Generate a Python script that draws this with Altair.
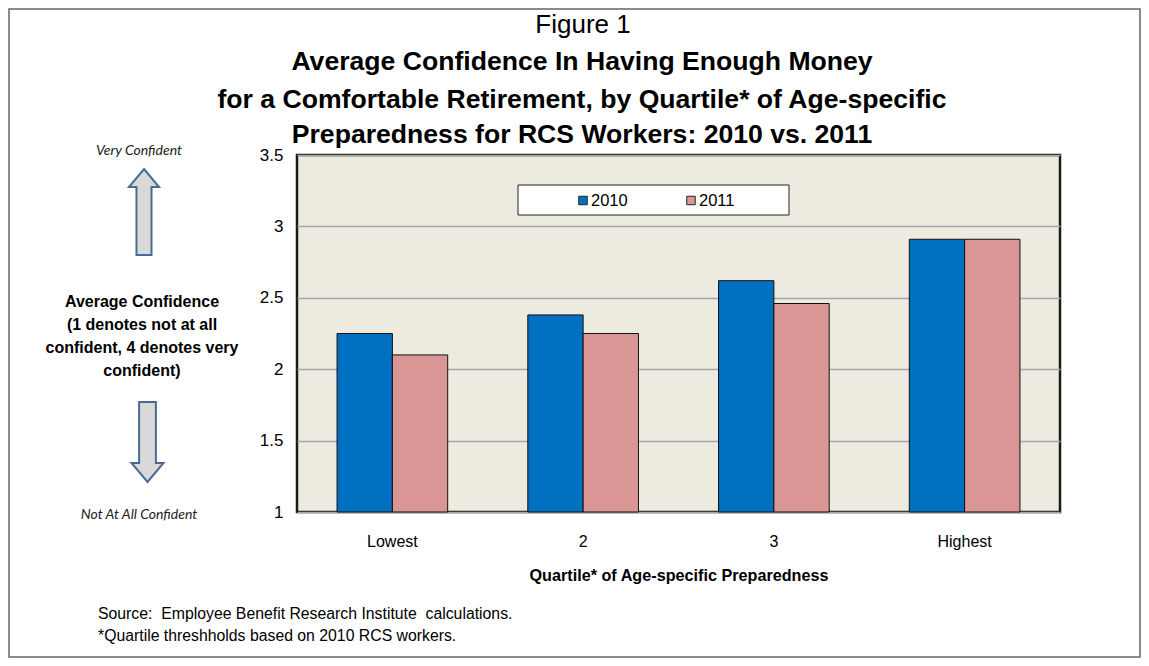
import altair as alt
import pandas as pd

# ---- data ----
quartiles = ["Lowest", "2", "3", "Highest"]
years = ["2010", "2011"]
values_2010 = [2.25, 2.38, 2.62, 2.91]
values_2011 = [2.10, 2.25, 2.46, 2.91]
colors = ["#0070C0", "#D99694"]
y_ticks = [1, 1.5, 2, 2.5, 3, 3.5]

fig_label = "Figure 1"
title_lines = [
    "Average Confidence In Having Enough Money",
    "for a Comfortable Retirement, by Quartile* of Age-specific",
    "Preparedness for RCS Workers: 2010 vs. 2011",
]
y_label_lines = [
    "Average Confidence",
    "(1 denotes not at all",
    "confident, 4 denotes very",
    "confident)",
]
top_label = "Very Confident"
bottom_label = "Not At All Confident"
x_title = "Quartile* of Age-specific Preparedness"
notes = [
    "Source:\u00a0 Employee Benefit Research Institute\u00a0 calculations.",
    "*Quartile threshholds based on 2010 RCS workers.",
]

rows = []
for q, a, b in zip(quartiles, values_2010, values_2011):
    rows.append({"quartile": q, "year": years[0], "value": a})
    rows.append({"quartile": q, "year": years[1], "value": b})
df = pd.DataFrame(rows)

W, H = 763, 357
OX, OY = 297, 155  # plot origin on page
ARIAL = "Liberation Sans, Arial, Helvetica"


def px(x):
    return x - OX


def py(y):
    return y - OY


one = alt.Data(values=[{}])

bars = alt.Chart(df).mark_bar(stroke="#111", strokeWidth=1).encode(
    x=alt.X(
        "quartile:N",
        sort=quartiles,
        scale=alt.Scale(paddingInner=0.42, paddingOuter=0.21),
        axis=alt.Axis(
            title=x_title,
            labelAngle=0,
            labelFont=ARIAL,
            labelFontSize=16,
            labelColor="#000",
            labelPadding=21,
            ticks=False,
            domain=False,
            titleFont=ARIAL,
            titleFontSize=16.2,
            titleFontWeight="bold",
            titleColor="#000",
            titlePadding=18,
        ),
    ),
    xOffset=alt.XOffset("year:N", sort=years, scale=alt.Scale(paddingInner=0, paddingOuter=0)),
    y=alt.Y(
        "value:Q",
        scale=alt.Scale(domain=[1, 3.5], nice=False, zero=False),
        axis=alt.Axis(
            title=None,
            values=y_ticks,
            format=".1~f",
            labelFont=ARIAL,
            labelFontSize=17,
            labelColor="#000",
            labelPadding=14,
            ticks=False,
            domain=False,
            grid=True,
            gridColor="#A6A6A6",
            gridWidth=1.5,
        ),
    ),
    y2=alt.datum(1),
    color=alt.Color("year:N", scale=alt.Scale(domain=years, range=colors), legend=None),
)

layers = [bars]

# legend box
layers.append(
    alt.Chart(one).mark_rect(fill="white", stroke="#222", strokeWidth=1).encode(
        x=alt.value(px(518)), x2=alt.value(px(789)), y=alt.value(py(185)), y2=alt.value(py(215))
    )
)
for yr, col, sx, tx in zip(years, colors, [583, 691], [591, 699]):
    layers.append(
        alt.Chart(one).mark_square(size=72, fill=col, stroke="#222", strokeWidth=1, opacity=1).encode(
            x=alt.value(px(sx)), y=alt.value(py(200.5))
        )
    )
    layers.append(
        alt.Chart(one).mark_text(text=yr, font=ARIAL, fontSize=16.5, align="left", baseline="middle", color="#000").encode(
            x=alt.value(px(tx)), y=alt.value(py(201))
        )
    )

# titles
layers.append(
    alt.Chart(one).mark_text(text=fig_label, font=ARIAL, fontSize=26, align="center", baseline="alphabetic", color="#000").encode(
        x=alt.value(px(583)), y=alt.value(py(32.5))
    )
)
for line, yy in zip(title_lines, [62, 100, 135]):
    layers.append(
        alt.Chart(one).mark_text(text=line, font=ARIAL, fontSize=26.6, fontWeight="bold", align="center", baseline="middle", color="#000").encode(
            x=alt.value(px(582)), y=alt.value(py(yy))
        )
    )

# left label
layers.append(
    alt.Chart(one).mark_text(text=y_label_lines, font=ARIAL, fontSize=16, fontWeight="bold", align="center", baseline="middle", lineHeight=23, color="#000").encode(
        x=alt.value(px(142)), y=alt.value(py(302))
    )
)
layers.append(
    alt.Chart(one).mark_text(text=top_label, font="Lato, Open Sans", fontSize=14, fontStyle="italic", align="center", baseline="middle", color="#222").encode(
        x=alt.value(px(139)), y=alt.value(py(151))
    )
)
layers.append(
    alt.Chart(one).mark_text(text=bottom_label, font="Lato, Open Sans", fontSize=14, fontStyle="italic", align="center", baseline="middle", color="#222").encode(
        x=alt.value(px(139)), y=alt.value(py(515))
    )
)

# arrows
up_arrow = "M0,-1 L0.35,-0.58 L0.175,-0.58 L0.175,1 L-0.175,1 L-0.175,-0.58 L-0.35,-0.58 Z"
down_arrow = "M0,1 L0.4,0.525 L0.21,0.525 L0.21,-1 L-0.21,-1 L-0.21,0.525 L-0.4,0.525 Z"
layers.append(
    alt.Chart(one).mark_point(shape=up_arrow, size=86 * 86, filled=True, fill="#D9D9D9", stroke="#4A6A96", strokeWidth=2, opacity=1).encode(
        x=alt.value(px(144)), y=alt.value(py(212))
    )
)
layers.append(
    alt.Chart(one).mark_point(shape=down_arrow, size=80 * 80, filled=True, fill="#D9D9D9", stroke="#4A6A96", strokeWidth=2, opacity=1).encode(
        x=alt.value(px(147.5)), y=alt.value(py(442))
    )
)

# footnotes
layers.append(
    alt.Chart(one).mark_text(text=notes, font=ARIAL, fontSize=15.8, align="left", baseline="middle", lineHeight=22, color="#000").encode(
        x=alt.value(px(98)), y=alt.value(py(614))
    )
)

# outer border
layers.append(
    alt.Chart(one).mark_rect(fill=None, stroke="#666", strokeWidth=1.5, filled=False).encode(
        x=alt.value(px(9)), x2=alt.value(px(1140)), y=alt.value(py(9)), y2=alt.value(py(657))
    )
)

chart = (
    alt.layer(*layers)
    .properties(
        width=W,
        height=H,
        autosize=alt.AutoSizeParams(type="none"),
        padding={"left": 289, "top": 147, "right": 81, "bottom": 146},
        background="white",
    )
    .configure_view(fill="#EDEADF", stroke="#1A1A1A", strokeWidth=2.5)
)

chart.save("out.html", embed_options={"renderer": "svg", "actions": False})
